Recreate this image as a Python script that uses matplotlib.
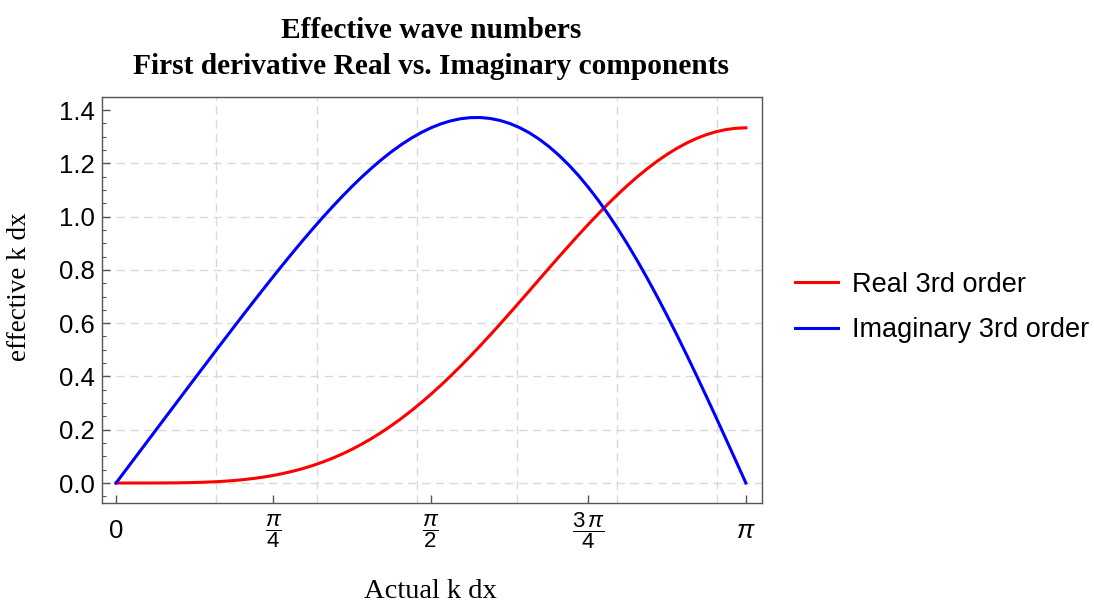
import numpy as np
import matplotlib
matplotlib.use("Agg")
import matplotlib.pyplot as plt

# Data (x = actual k dx in radians)
k_dx = [0.0000, 0.0491, 0.0982, 0.1473, 0.1963, 0.2454, 0.2945, 0.3436, 0.3927, 0.4418,
        0.4909, 0.5400, 0.5890, 0.6381, 0.6872, 0.7363, 0.7854, 0.8345, 0.8836, 0.9327,
        0.9817, 1.0308, 1.0799, 1.1290, 1.1781, 1.2272, 1.2763, 1.3254, 1.3744, 1.4235,
        1.4726, 1.5217, 1.5708, 1.6199, 1.6690, 1.7181, 1.7671, 1.8162, 1.8653, 1.9144,
        1.9635, 2.0126, 2.0617, 2.1108, 2.1598, 2.2089, 2.2580, 2.3071, 2.3562, 2.4053,
        2.4544, 2.5035, 2.5525, 2.6016, 2.6507, 2.6998, 2.7489, 2.7980, 2.8471, 2.8962,
        2.9452, 2.9943, 3.0434, 3.0925, 3.1416]
real_3rd = [0.0000, 0.0000, 0.0000, 0.0000, 0.0001, 0.0003, 0.0006, 0.0011, 0.0019, 0.0031,
            0.0046, 0.0067, 0.0095, 0.0129, 0.0172, 0.0224, 0.0286, 0.0360, 0.0446, 0.0545,
            0.0658, 0.0787, 0.0931, 0.1092, 0.1270, 0.1466, 0.1679, 0.1910, 0.2160, 0.2427,
            0.2712, 0.3014, 0.3333, 0.3668, 0.4019, 0.4383, 0.4761, 0.5150, 0.5549, 0.5958,
            0.6373, 0.6793, 0.7217, 0.7642, 0.8066, 0.8488, 0.8904, 0.9314, 0.9714, 1.0103,
            1.0479, 1.0839, 1.1181, 1.1504, 1.1805, 1.2084, 1.2338, 1.2565, 1.2765, 1.2936,
            1.3078, 1.3189, 1.3269, 1.3317, 1.3333]
imag_3rd = [0.0000, 0.0491, 0.0982, 0.1473, 0.1963, 0.2454, 0.2944, 0.3435, 0.3924, 0.4412,
            0.4900, 0.5385, 0.5868, 0.6348, 0.6824, 0.7295, 0.7761, 0.8221, 0.8672, 0.9115,
            0.9546, 0.9967, 1.0373, 1.0765, 1.1140, 1.1497, 1.1833, 1.2148, 1.2439, 1.2705,
            1.2944, 1.3154, 1.3333, 1.3481, 1.3594, 1.3673, 1.3715, 1.3719, 1.3685, 1.3611,
            1.3497, 1.3342, 1.3145, 1.2906, 1.2626, 1.2304, 1.1941, 1.1538, 1.1095, 1.0613,
            1.0093, 0.9538, 0.8947, 0.8325, 0.7671, 0.6989, 0.6281, 0.5549, 0.4796, 0.4025,
            0.3239, 0.2440, 0.1632, 0.0818, 0.0000]

x_tick_pos = [0, np.pi / 4, np.pi / 2, 3 * np.pi / 4, np.pi]
x_tick_labels = [r"$0$", r"$\dfrac{\pi}{4}$", r"$\dfrac{\pi}{2}$", r"$\dfrac{3\,\pi}{4}$", r"$\pi$"]
y_tick_pos = [0.0, 0.2, 0.4, 0.6, 0.8, 1.0, 1.2, 1.4]
y_tick_labels = ["0.0", "0.2", "0.4", "0.6", "0.8", "1.0", "1.2", "1.4"]
x_grid = [0.5, 1.0, 1.5, 2.0, 2.5, 3.0]
y_grid = [0.0, 0.2, 0.4, 0.6, 0.8, 1.0, 1.2]

plt.rcParams['mathtext.fontset'] = 'custom'
plt.rcParams['mathtext.rm'] = 'Liberation Sans'
plt.rcParams['mathtext.it'] = 'Liberation Sans:italic'
plt.rcParams['font.family'] = ['Liberation Sans', 'DejaVu Sans']

W, H = 1094, 605
fig = plt.figure(figsize=(W / 100, H / 100), dpi=100)
ax = fig.add_axes([102 / W, 1 - 503 / H, 660 / W, 406 / H])

for gx in x_grid:
    ax.axvline(gx, color='#d9d9d9', lw=1.0, ls=(0, (6, 4)), zorder=0)
for gy in y_grid:
    ax.axhline(gy, color='#d9d9d9', lw=1.0, ls=(0, (6, 4)), zorder=0)

ax.plot(k_dx, real_3rd, color='#ff0000', lw=2.2, label='Real 3rd order')
ax.plot(k_dx, imag_3rd, color='#0000ff', lw=2.2, label='Imaginary 3rd order')

ax.set_xlim(-0.07, 3.222)
ax.set_ylim(-0.075, 1.449)

ax.set_xticks(x_tick_pos)
ax.set_xticklabels(x_tick_labels)
ax.set_yticks(y_tick_pos)
ax.set_yticklabels(y_tick_labels)
ax.set_yticks(np.arange(-0.05, 1.45, 0.05), minor=True)
ax.tick_params(axis='both', which='major', direction='in', length=5.5, width=1.0,
               color='#555555', labelsize=18.5, top=False, right=False)
ax.tick_params(axis='y', which='minor', direction='in', length=3, width=0.8,
               color='#555555', right=False)
ax.tick_params(axis='x', which='major', pad=20)
ax.tick_params(axis='y', which='major', pad=5)
for i, lab in enumerate(ax.get_xticklabels()):
    lab.set_va('center')
    if i in (1, 2, 3):
        lab.set_fontsize(16)

for side in ['left', 'bottom', 'top', 'right']:
    ax.spines[side].set_color('#555555')
    ax.spines[side].set_linewidth(1.0)

fig.text(430 / W, 1 - 592 / H, 'Actual k dx', ha='center', va='center',
         family='Liberation Serif', fontsize=20.5)
fig.text(20 / W, 1 - 287 / H, 'effective k dx', ha='center', va='center', rotation=90,
         family='Liberation Serif', fontsize=19.5)

fig.text(431 / W, 1 - 31 / H, 'Effective wave numbers', ha='center', va='center',
         family='Liberation Serif', weight='bold', fontsize=21.2)
fig.text(431 / W, 1 - 66 / H, 'First derivative Real vs. Imaginary components', ha='center', va='center',
         family='Liberation Serif', weight='bold', fontsize=21.2)

fig.legend(loc='center left', bbox_to_anchor=(795 / W, 1 - 307.5 / H), frameon=False,
           borderaxespad=0, borderpad=0, fontsize=19.5, handlelength=1.6,
           handletextpad=0.52, labelspacing=0.72)

fig.savefig('out.png', dpi=100)
